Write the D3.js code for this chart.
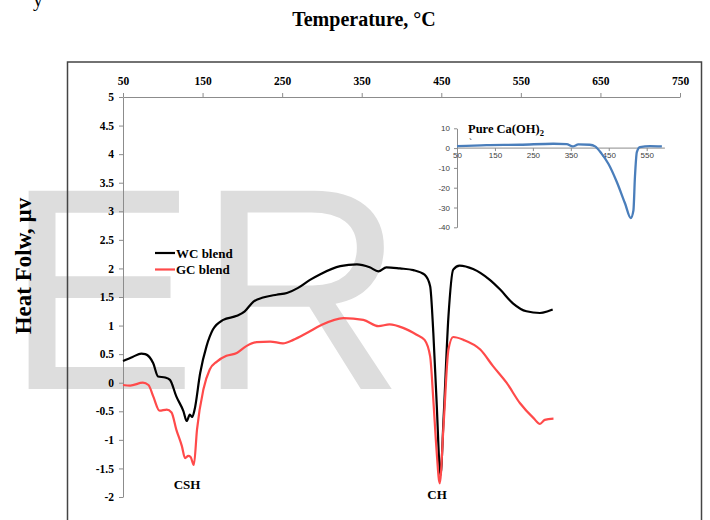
<!DOCTYPE html>
<html>
<head>
<meta charset="utf-8">
<script src="https://cdn.jsdelivr.net/npm/d3@7"></script>
<style>
  body { margin: 0; background: #fff; }
  svg { display: block; }
  .serif { font-family: "Liberation Serif", "Times New Roman", serif; font-weight: bold; }
</style>
</head>
<body>
<script>
// main chart data (temperature in °C, heat flow in µv)
const wcTemp = [50, 62, 73, 78, 88, 94, 103, 109, 117, 126, 130, 134, 137, 140, 147, 155, 163, 176, 193, 203, 214, 226, 243, 256, 270, 285, 298, 323, 344, 360, 371, 381, 398, 415, 429, 436, 440, 444, 449, 453, 459, 465, 473, 490, 511, 524, 540, 557, 574, 584, 590];
const wcFlow = [0.38, 0.45, 0.51, 0.5, 0.34, 0.11, 0.09, 0.05, -0.24, -0.5, -0.67, -0.56, -0.6, -0.47, 0.17, 0.64, 0.93, 1.1, 1.17, 1.25, 1.42, 1.49, 1.54, 1.57, 1.66, 1.8, 1.9, 2.04, 2.07, 2.02, 1.95, 2.02, 2.0, 1.97, 1.89, 1.69, 0.87, -0.3, -1.62, -0.59, 1.16, 1.98, 2.05, 1.99, 1.8, 1.63, 1.39, 1.25, 1.22, 1.25, 1.28];

const gcTemp = [50, 59, 75, 82, 88, 96, 105, 111, 117, 124, 128, 132, 135, 139, 143, 151, 159, 168, 180, 193, 205, 218, 235, 251, 264, 281, 298, 327, 352, 371, 385, 402, 419, 429, 436, 440, 444, 448, 453, 459, 465, 478, 499, 515, 532, 549, 566, 574, 580, 591];
const gcFlow = [-0.04, -0.05, 0.0, -0.04, -0.24, -0.49, -0.47, -0.52, -0.82, -1.11, -1.32, -1.28, -1.3, -1.44, -0.82, -0.12, 0.23, 0.37, 0.47, 0.52, 0.64, 0.71, 0.72, 0.69, 0.75, 0.87, 1.0, 1.13, 1.1, 0.99, 1.02, 0.96, 0.84, 0.75, 0.46, -0.3, -1.17, -1.76, -0.71, 0.58, 0.8, 0.75, 0.58, 0.29, 0.0, -0.36, -0.62, -0.72, -0.65, -0.63];

// inset: pure Ca(OH)2
const caTemp = [50, 128, 216, 304, 339, 355, 370, 400, 414, 431, 449, 471, 493, 508, 515, 519, 524, 532, 559, 590];
const caFlow = [1.0, 1.5, 1.7, 2.2, 2.0, 0.85, 1.86, 1.7, 0.86, -2.8, -7.9, -17, -28, -35.3, -31.5, -14.6, -2, 0.5, 1.0, 0.86];

const xTicks = [50, 150, 250, 350, 450, 550, 650, 750];
const yTicks = [-2, -1.5, -1, -0.5, 0, 0.5, 1, 1.5, 2, 2.5, 3, 3.5, 4, 4.5, 5];
const insetXTicks = [50, 150, 250, 350, 450, 550];
const insetYTicks = [-40, -30, -20, -10, 0, 10];

const seriesNames = ["WC blend", "GC blend"];
const seriesColors = ["#000000", "#ff4a4a"];

const W = 710, H = 520;
const svg = d3.select("body").append("svg").attr("width", W).attr("height", H);

// watermark
svg.append("text")
  .attr("x", 5).attr("y", 389)
  .style("font-family", "'Liberation Sans', Arial, sans-serif")
  .style("font-size", "288px")
  .attr("fill", "#dddddd")
  .text("ER");

// frame
svg.append("rect")
  .attr("x", 67.5).attr("y", 62)
  .attr("width", 634).attr("height", 480)
  .attr("fill", "none").attr("stroke", "#444").attr("stroke-width", 1.5);

// titles
svg.append("text").attr("class", "serif")
  .attr("x", 364).attr("y", 26).attr("text-anchor", "middle")
  .style("font-size", "20px")
  .text("Temperature, °C");
svg.append("text")
  .attr("x", 33).attr("y", 6)
  .style("font-family", "'Liberation Serif', serif").style("font-size", "20px")
  .text("y");
svg.append("text").attr("class", "serif")
  .attr("transform", "translate(31,266) rotate(-90)")
  .attr("text-anchor", "middle")
  .style("font-size", "23px")
  .text("Heat Folw, µv");

// scales
const x = d3.scaleLinear().domain([50, 750]).range([123, 680]);
const y = d3.scaleLinear().domain([-2, 5]).range([497, 97]);

const fmt = d => String(d);

const gx = svg.append("g")
  .attr("transform", `translate(0,${y(5)})`)
  .call(d3.axisTop(x).tickValues(xTicks).tickFormat(fmt).tickSize(4).tickSizeOuter(0).tickPadding(8));
const gy = svg.append("g")
  .attr("transform", `translate(${x(50)},0)`)
  .call(d3.axisLeft(y).tickValues(yTicks).tickFormat(fmt).tickSize(4).tickSizeOuter(0).tickPadding(5));

[gx, gy].forEach(g => {
  g.select(".domain").attr("stroke", "#8c8c8c");
  g.selectAll(".tick line").attr("stroke", "#8c8c8c");
  g.selectAll("text")
    .attr("fill", "#000")
    .style("font-family", "'Liberation Serif', 'Times New Roman', serif")
    .style("font-weight", "bold")
    .style("font-size", "11.5px");
});

// curves
const line = d3.line()
  .x(d => x(d[0]))
  .y(d => y(d[1]))
  .curve(d3.curveMonotoneX);

svg.append("path")
  .datum(d3.zip(wcTemp, wcFlow))
  .attr("d", line)
  .attr("fill", "none").attr("stroke", seriesColors[0]).attr("stroke-width", 2.2);
svg.append("path")
  .datum(d3.zip(gcTemp, gcFlow))
  .attr("d", line)
  .attr("fill", "none").attr("stroke", seriesColors[1]).attr("stroke-width", 2.2);

// peak labels
svg.append("text").attr("class", "serif")
  .attr("x", 187).attr("y", 489).attr("text-anchor", "middle")
  .style("font-size", "13px").text("CSH");
svg.append("text").attr("class", "serif")
  .attr("x", 437).attr("y", 499).attr("text-anchor", "middle")
  .style("font-size", "13px").text("CH");

// legend
const legend = svg.append("g").attr("transform", "translate(155,253)");
seriesNames.forEach((name, i) => {
  const row = legend.append("g").attr("transform", `translate(0,${i * 16.5})`);
  row.append("line")
    .attr("x1", 0).attr("x2", 20).attr("y1", 0).attr("y2", 0)
    .attr("stroke", seriesColors[i]).attr("stroke-width", 2.2);
  row.append("text").attr("class", "serif")
    .attr("x", 21).attr("y", 4.5)
    .style("font-size", "13px")
    .text(name);
});

// inset chart
const ix = d3.scaleLinear().domain([50, 550]).range([457, 646.7]);
const iy = d3.scaleLinear().domain([-40, 10]).range([227.3, 128.3]);

const igy = svg.append("g")
  .attr("transform", `translate(${ix(50)},0)`)
  .call(d3.axisLeft(iy).tickValues(insetYTicks).tickFormat(fmt).tickSize(3).tickSizeOuter(0).tickPadding(4));
const igx = svg.append("g")
  .attr("transform", `translate(0,${iy(0)})`)
  .call(d3.axisBottom(ix).tickValues(insetXTicks).tickFormat(fmt).tickSize(3).tickSizeOuter(0).tickPadding(1));
igx.select(".domain").attr("d", `M${ix(50)},0H${ix(598)}`);

[igx, igy].forEach(g => {
  g.select(".domain").attr("stroke", "#8c8c8c");
  g.selectAll(".tick line").attr("stroke", "#8c8c8c");
  g.selectAll("text")
    .attr("fill", "#404040")
    .style("font-family", "'Liberation Sans', Arial, sans-serif")
    .style("font-size", "8px");
});

svg.append("path")
  .datum(d3.zip(caTemp, caFlow))
  .attr("d", d3.line().x(d => ix(d[0])).y(d => iy(d[1])).curve(d3.curveMonotoneX))
  .attr("fill", "none").attr("stroke", "#4a7ebb").attr("stroke-width", 2.3);

const inTitle = svg.append("text").attr("class", "serif")
  .attr("x", 468).attr("y", 133)
  .style("font-size", "12.5px");
inTitle.append("tspan").text("Pure Ca(OH)");
inTitle.append("tspan").attr("dy", 3).style("font-size", "8.5px").text("2");
svg.append("text")
  .attr("x", 469).attr("y", 145)
  .style("font-family", "'Liberation Serif', serif").style("font-size", "9px")
  .text("`");
</script>
</body>
</html>
